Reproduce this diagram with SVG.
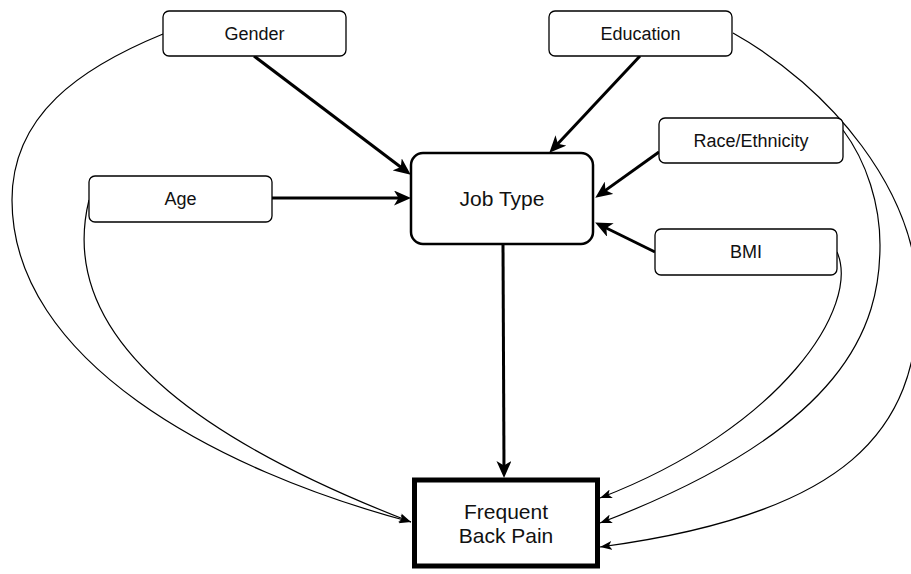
<svg xmlns="http://www.w3.org/2000/svg" width="911" height="574" viewBox="0 0 911 574">
  <defs>
    <marker id="headBold" markerUnits="userSpaceOnUse" viewBox="0 0 17 15" markerWidth="17" markerHeight="15" refX="8" refY="7.5" orient="auto">
      <path d="M0,0 L17,7.5 L0,15 L4.5,7.5 Z" fill="#000"/>
    </marker>
    <marker id="headThin" markerUnits="userSpaceOnUse" viewBox="0 0 12 9" markerWidth="12" markerHeight="9" refX="12" refY="4.5" orient="auto">
      <path d="M0,0 L12,4.5 L0,9 L3,4.5 Z" fill="#000"/>
    </marker>
  </defs>
  <style>
    .box { fill: #fff; stroke: #000; stroke-width: 1.3; }
    .hub { fill: #fff; stroke: #000; stroke-width: 2.5; }
    .outcome { fill: #fff; stroke: #000; stroke-width: 5; }
    .lbl { font-family: "Liberation Sans", Arial, sans-serif; font-size: 18px; fill: #111; text-anchor: middle; }
    .big { font-size: 21px; }
    .bold { fill: none; stroke: #000; stroke-width: 3; marker-end: url(#headBold); }
    .thin { fill: none; stroke: #000; stroke-width: 1.2; marker-end: url(#headThin); }
  </style>
  <rect width="911" height="574" fill="#fff"/>

  <g id="connectors">
    <!-- confounder paths straight to the outcome -->
    <path class="thin" d="M163,34 C80,68 12,115 12,200 C12,360 215,470 411,522"/>
    <path class="thin" d="M89,200 C52,350 230,452 411,522"/>
    <path class="thin" d="M733,33 C829,87 918,190 918,300 C918,430 848,514 600,547"/>
    <path class="thin" d="M843,130 C867,162 880,205 880,245 C880,325 847,429 600,523"/>
    <path class="thin" d="M837,252 C861,306 782,428 600,498"/>
    <!-- paths into Job Type and on to the outcome -->
    <path class="bold" d="M254,56 L403.6,169.2"/>
    <path class="bold" d="M272,198 L402,198"/>
    <path class="bold" d="M640,56 L555.5,146.2"/>
    <path class="bold" d="M659,152 L602.6,192.4"/>
    <path class="bold" d="M655,252 L603.2,226.5"/>
    <path class="bold" d="M503,245 L504,469"/>
  </g>

  <g id="gender">
    <rect class="box" x="163" y="11" width="183" height="45" rx="6"/>
    <text class="lbl" x="254.5" y="40">Gender</text>
  </g>
  <g id="education">
    <rect class="box" x="549" y="11" width="183" height="45" rx="6"/>
    <text class="lbl" x="640.5" y="40">Education</text>
  </g>
  <g id="race">
    <rect class="box" x="659" y="118" width="184" height="45" rx="6"/>
    <text class="lbl" x="751" y="147">Race/Ethnicity</text>
  </g>
  <g id="bmi">
    <rect class="box" x="655" y="229" width="182" height="46" rx="6"/>
    <text class="lbl" x="746" y="258">BMI</text>
  </g>
  <g id="age">
    <rect class="box" x="89" y="176" width="183" height="46" rx="6"/>
    <text class="lbl" x="180.5" y="205">Age</text>
  </g>
  <g id="job-type">
    <rect class="hub" x="411" y="153" width="182" height="91" rx="12"/>
    <text class="lbl big" x="502" y="206" font-size="22">Job Type</text>
  </g>
  <g id="back-pain">
    <rect class="outcome" x="414.5" y="480" width="183" height="86"/>
    <text class="lbl big" x="506" y="519">Frequent</text>
    <text class="lbl big" x="506" y="543">Back Pain</text>
  </g>
</svg>
